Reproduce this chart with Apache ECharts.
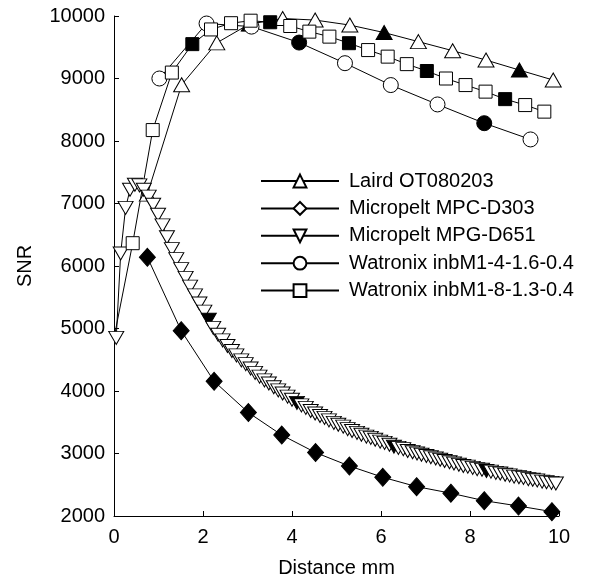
<!DOCTYPE html>
<html>
<head>
<meta charset="utf-8">
<script src="https://cdn.jsdelivr.net/npm/echarts@6/dist/echarts.min.js"></script>
<style>
  html, body { margin: 0; padding: 0; background: #fff; }
  #chart { width: 598px; height: 579px; }
</style>
</head>
<body>
<div id="chart"></div>
<script>
// Laird OT080203 (triangle up)
const lairdX = [0.75, 1.52, 2.31, 3.04, 3.79, 4.52, 5.30, 6.07, 6.84, 7.61, 8.36, 9.11, 9.87]
const lairdY = [7150, 8900, 9570, 9870, 9960, 9935, 9855, 9735, 9590, 9445, 9295, 9135, 8975]
const lairdFilled = [3, 7, 11]

// Micropelt MPC-D303 (diamond, all filled)
const mpcX = [0.75, 1.51, 2.25, 3.02, 3.77, 4.53, 5.29, 6.04, 6.80, 7.57, 8.32, 9.09, 9.84]
const mpcY = [6140, 4965, 4155, 3655, 3295, 3015, 2800, 2620, 2470, 2365, 2245, 2160, 2070]

// Micropelt MPG-D651 (triangle down)
const mpgX = [
  0.05, 0.15, 0.26, 0.36, 0.47, 0.57, 0.67, 0.78, 0.88, 0.99,
  1.09, 1.19, 1.30, 1.40, 1.51, 1.61, 1.71, 1.82, 1.92, 2.03,
  2.13, 2.23, 2.34, 2.44, 2.55, 2.65, 2.75, 2.86, 2.96, 3.07,
  3.17, 3.27, 3.38, 3.48, 3.59, 3.69, 3.79, 3.90, 4.00, 4.11,
  4.21, 4.31, 4.42, 4.52, 4.63, 4.73, 4.83, 4.94, 5.04, 5.15,
  5.25, 5.35, 5.46, 5.56, 5.67, 5.77, 5.87, 5.98, 6.08, 6.19,
  6.29, 6.39, 6.50, 6.60, 6.71, 6.81, 6.91, 7.02, 7.12, 7.23,
  7.33, 7.43, 7.54, 7.64, 7.75, 7.85, 7.95, 8.06, 8.16, 8.27,
  8.37, 8.47, 8.58, 8.68, 8.79, 8.89, 8.99, 9.10, 9.20, 9.31,
  9.41, 9.51, 9.62, 9.72, 9.83, 9.93
]
const mpgY = [
  4850, 6200, 6930, 7220, 7300, 7290, 7220, 7110, 6980, 6820,
  6650, 6460, 6270, 6110, 5950, 5810, 5670, 5530, 5400, 5270,
  5140, 5010, 4900, 4810, 4720, 4640, 4570, 4490, 4430, 4360,
  4290, 4230, 4170, 4120, 4060, 4010, 3960, 3910, 3860, 3810,
  3770, 3730, 3680, 3640, 3600, 3570, 3530, 3490, 3460, 3430,
  3390, 3360, 3330, 3300, 3270, 3250, 3220, 3190, 3170, 3140,
  3110, 3090, 3070, 3040, 3020, 3000, 2980, 2960, 2940, 2920,
  2900, 2880, 2860, 2840, 2820, 2800, 2790, 2770, 2750, 2740,
  2720, 2710, 2690, 2680, 2660, 2650, 2630, 2620, 2610, 2590,
  2580, 2570, 2550, 2540, 2530, 2520
]
const mpgFilled = [20, 39, 60, 80]

// Watronix inbM1-4-1.6-0.4 (circle)
const wat4X = [1.02, 2.08, 3.09, 4.16, 5.19, 6.22, 7.27, 8.32, 9.36]
const wat4Y = [9000, 9880, 9830, 9575, 9245, 8895, 8585, 8285, 8025]
const wat4Filled = [3, 7]

// Watronix inbM1-8-1.3-0.4 (square), first point has no marker
const wat8X = [0, 0.42, 0.87, 1.30, 1.76, 2.18, 2.63, 3.07, 3.51, 3.96, 4.39, 4.84, 5.28, 5.71, 6.15, 6.58, 7.03, 7.46, 7.90, 8.35, 8.79, 9.24, 9.67]
const wat8Y = [4850, 6365, 8175, 9095, 9550, 9785, 9885, 9925, 9900, 9840, 9750, 9670, 9565, 9455, 9350, 9230, 9120, 9000, 8895, 8790, 8670, 8575, 8470]
const wat8Filled = [4, 8, 12, 16, 20]
const wat8Hidden = [0]

const font = 'Liberation Sans, Arial, Helvetica, sans-serif'

function points(xs, ys, filled, hidden) {
  return xs.map(function (x, i) {
    const item = {
      value: [x, ys[i]],
      itemStyle: { color: filled.indexOf(i) >= 0 ? '#000' : '#fff' }
    }
    if (hidden && hidden.indexOf(i) >= 0) item.symbol = 'none'
    return item
  })
}

function makeSeries(name, data, symbol, size, rotate) {
  return {
    name: name,
    type: 'line',
    data: data,
    symbol: symbol,
    symbolSize: size,
    symbolRotate: rotate || 0,
    showAllSymbol: true,
    lineStyle: { color: '#000', width: 1 },
    itemStyle: { color: '#fff', borderColor: '#000', borderWidth: 1 },
    emphasis: { disabled: true },
    clip: true
  }
}

const chart = echarts.init(document.getElementById('chart'))
chart.setOption({
  animation: false,
  backgroundColor: '#fff',
  textStyle: { fontFamily: font, color: '#000' },
  grid: { left: 114, right: 39, top: 16, bottom: 63, containLabel: false, outerBoundsMode: 'none' },
  legend: {
    orient: 'vertical',
    left: 260,
    top: 171,
    padding: 0,
    itemWidth: 78,
    itemHeight: 16,
    itemGap: 7.4,
    inactiveColor: '#000',
    selectedMode: false,
    textStyle: { fontFamily: font, fontSize: 20, color: '#000', padding: [0, 0, 0, 5] },
    data: ['Laird OT080203', 'Micropelt MPC-D303', 'Micropelt MPG-D651', 'Watronix inbM1-4-1.6-0.4', 'Watronix inbM1-8-1.3-0.4']
  },
  xAxis: {
    type: 'value',
    min: 0,
    max: 10,
    interval: 2,
    name: 'Distance mm',
    nameLocation: 'center',
    nameGap: 42,
    nameTextStyle: { fontFamily: font, fontSize: 20, color: '#000' },
    axisLine: { show: true, lineStyle: { color: '#000', width: 1 } },
    axisTick: { show: true, inside: true, length: 5, lineStyle: { color: '#000' } },
    axisLabel: { fontFamily: font, fontSize: 20, color: '#000', margin: 11 },
    splitLine: { show: false }
  },
  yAxis: {
    type: 'value',
    min: 2000,
    max: 10000,
    interval: 1000,
    name: 'SNR',
    nameLocation: 'center',
    nameGap: 79,
    nameTextStyle: { fontFamily: font, fontSize: 20, color: '#000' },
    axisLine: { show: true, lineStyle: { color: '#000', width: 1 } },
    axisTick: { show: true, inside: true, length: 5, lineStyle: { color: '#000' } },
    axisLabel: { fontFamily: font, fontSize: 20, color: '#000', margin: 9, formatter: function (v) { return String(v) } },
    splitLine: { show: false }
  },
  series: [
    makeSeries('Laird OT080203', points(lairdX, lairdY, lairdFilled), 'triangle', [16, 14]),
    makeSeries('Micropelt MPC-D303', points(mpcX, mpcY, mpcX.map(function (_, i) { return i })), 'diamond', [16, 18]),
    makeSeries('Micropelt MPG-D651', points(mpgX, mpgY, mpgFilled), 'triangle', [15, 13], 180),
    makeSeries('Watronix inbM1-4-1.6-0.4', points(wat4X, wat4Y, wat4Filled), 'circle', 15),
    makeSeries('Watronix inbM1-8-1.3-0.4', points(wat8X, wat8Y, wat8Filled, wat8Hidden), 'rect', 13)
  ]
})
</script>
</body>
</html>
